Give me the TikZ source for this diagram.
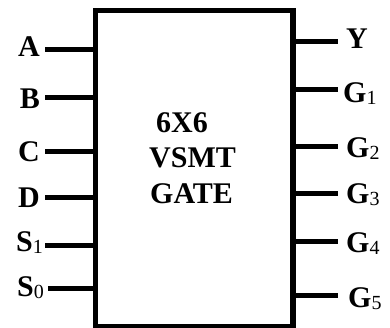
\documentclass[tikz,border=0pt]{standalone}
\usepackage{fontspec}
\setmainfont{Liberation Serif}
\newcommand\subdig[1]{\raisebox{-2.5pt}{\fontsize{20}{20}\selectfont\mdseries #1}}
\begin{document}
\begin{tikzpicture}[x=1pt,y=-1pt,
  lbl/.style={inner sep=0pt, font=\fontsize{30}{36}\selectfont\bfseries},
  wire/.style={line width=5pt},
  gatebox/.style={draw, line width=5.5pt, inner sep=0pt, minimum width=197.5pt, minimum height=316pt}]
\useasboundingbox (0,0) rectangle (390,327);
\node[gatebox] (gate) at (194.25,168.4) {};
% centre text
\node[lbl, anchor=base west] (t1) at (156,132) {6X6};
\node[lbl, anchor=base west] (t2) at (149,167) {VSMT};
\node[lbl, anchor=base west] (t3) at (150,203) {GATE};
% input labels
\node[lbl, anchor=base east] (A) at (40,56) {A};
\node[lbl, anchor=base east] (B) at (40,108) {B};
\node[lbl, anchor=base east] (C) at (40,161) {C};
\node[lbl, anchor=base east] (D) at (40,207) {D};
\node[lbl, anchor=base east] (S1) at (43,251) {S\subdig{1}};
\node[lbl, anchor=base east] (S0) at (44,296) {S\subdig{0}};
% output labels
\node[lbl, anchor=base west] (Y) at (346,48) {Y};
\node[lbl, anchor=base west] (G1) at (343,102) {G\subdig{1}};
\node[lbl, anchor=base west] (G2) at (346,157) {G\subdig{2}};
\node[lbl, anchor=base west] (G3) at (346,203) {G\subdig{3}};
\node[lbl, anchor=base west] (G4) at (346,252) {G\subdig{4}};
\node[lbl, anchor=base west] (G5) at (348,307) {G\subdig{5}};
% input wires
\coordinate (wA) at (45,49);
\coordinate (wB) at (45,97);
\coordinate (wC) at (45,151);
\coordinate (wD) at (45,197);
\coordinate (wS1) at (45,245);
\coordinate (wS0) at (48,288);
\foreach \w in {wA,wB,wC,wD,wS1,wS0}
  \draw[wire] (\w) -- (\w -| gate.west);
% output wires
\coordinate (wY) at (338,41);
\coordinate (wG1) at (338,89);
\coordinate (wG2) at (338,146);
\coordinate (wG3) at (338,193);
\coordinate (wG4) at (338,241);
\coordinate (wG5) at (338,295);
\foreach \w in {wY,wG1,wG2,wG3,wG4,wG5}
  \draw[wire] (gate.east |- \w) -- (\w);
\end{tikzpicture}
\end{document}
